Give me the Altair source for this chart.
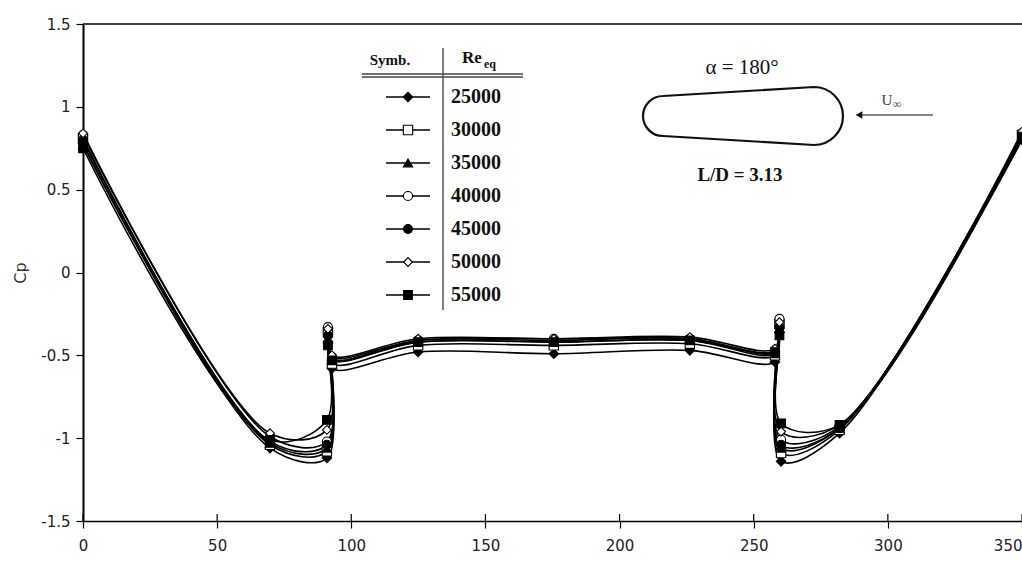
import altair as alt
import pandas as pd

# ---------------- data ----------------
ANGLE = [0, 69.7, 90.9, 91.3, 92.8, 124.9, 175.5, 226.2, 257.9, 259.6, 260.2, 282.0, 350]

RE_LABELS = ["25000", "30000", "35000", "40000", "45000", "50000", "55000"]

CP_25000 = [0.78, -1.06, -1.12, -0.42, -0.58, -0.48, -0.49, -0.47, -0.54, -0.36, -1.14, -0.97, 0.80]
CP_30000 = [0.81, -1.04, -1.08, -0.36, -0.55, -0.44, -0.44, -0.43, -0.50, -0.31, -1.09, -0.95, 0.83]
CP_35000 = [0.77, -1.03, -1.06, -0.40, -0.53, -0.42, -0.42, -0.41, -0.49, -0.34, -1.06, -0.94, 0.81]
CP_40000 = [0.83, -0.99, -1.02, -0.33, -0.52, -0.41, -0.40, -0.40, -0.47, -0.28, -1.01, -0.93, 0.84]
CP_45000 = [0.80, -1.02, -1.04, -0.38, -0.51, -0.41, -0.41, -0.40, -0.48, -0.33, -1.04, -0.94, 0.83]
CP_50000 = [0.84, -0.97, -0.95, -0.34, -0.50, -0.40, -0.40, -0.39, -0.46, -0.30, -0.96, -0.92, 0.85]
CP_55000 = [0.75, -1.01, -0.89, -0.44, -0.53, -0.42, -0.42, -0.41, -0.48, -0.38, -0.91, -0.92, 0.82]

SERIES = [CP_25000, CP_30000, CP_35000, CP_40000, CP_45000, CP_50000, CP_55000]

SHAPES = ["diamond", "square", "triangle-up", "circle", "circle", "diamond", "square"]
FILLS = ["black", "white", "black", "white", "black", "white", "black"]
SIZES = [90, 75, 75, 75, 80, 50, 90]

X_TICKS = [0, 50, 100, 150, 200, 250, 300, 350]
Y_TICKS = [-1.5, -1.0, -0.5, 0.0, 0.5, 1.0, 1.5]

rows = []
for lab, vals in zip(RE_LABELS, SERIES):
    for a, c in zip(ANGLE, vals):
        rows.append({"Re": lab, "angle": a, "cp": c})
df = pd.DataFrame(rows)
leg_df = pd.DataFrame({"Re": RE_LABELS})
xt_df = pd.DataFrame({"angle": X_TICKS})

# ---------------- layout helpers (plot origin in page pixels) ----------------
OX, OY = 83, 24
W, H = 1022 - OX, 497


def px(x):
    return x - OX


def py(y):
    return y - OY


SERIF = "Liberation Serif"
SANS = "DejaVu Sans"

shape_enc = alt.Shape("Re:N", scale=alt.Scale(domain=RE_LABELS, range=SHAPES), legend=None)
fill_enc = alt.Fill("Re:N", scale=alt.Scale(domain=RE_LABELS, range=FILLS), legend=None)
size_enc = alt.Size("Re:N", scale=alt.Scale(domain=RE_LABELS, range=SIZES), legend=None)

x_scale = alt.Scale(domain=[0, 350], nice=False, zero=False)
y_scale = alt.Scale(domain=[-1.5, 1.5], nice=False, zero=False)

x_axis = alt.Axis(values=X_TICKS, title=None, grid=False, labelFlush=False,
                  labelAlign={"condition": {"test": "datum.value >= 350", "value": "right"},
                              "value": "center"},
                  tickSize=7, labelPadding=10, domainWidth=1.5)
y_axis = alt.Axis(values=Y_TICKS, title="Cp", grid=False, labelFlush=False,
                  labelExpr="datum.value + ''", tickSize=7, labelPadding=6,
                  titlePadding=12, titleFontWeight="normal", titleFont=SANS,
                  titleFontSize=16, titleColor="#333", domainWidth=2)

x_enc = alt.X("angle:Q", scale=x_scale, axis=x_axis)
y_enc = alt.Y("cp:Q", scale=y_scale, axis=y_axis)

lines = alt.Chart(df).mark_line(
    interpolate="catmull-rom", color="black", strokeWidth=1.6
).encode(x=x_enc, y=y_enc, detail="Re:N")

points = alt.Chart(df).mark_point(
    filled=True, stroke="black", strokeWidth=1.1, opacity=1
).encode(x=x_enc, y=y_enc, shape=shape_enc, fill=fill_enc, size=size_enc)

# inner half of the crossing x ticks
xticks_in = alt.Chart(xt_df).mark_rule(color="black", strokeWidth=1.2).encode(
    x=alt.X("angle:Q", scale=x_scale, axis=x_axis), y=alt.value(H - 7), y2=alt.value(H))

main = alt.layer(lines, points, xticks_in)

# ---------------- custom legend table ----------------
leg_y = alt.Y("Re:N", scale=alt.Scale(type="point", domain=RE_LABELS,
                                      range=[py(97), py(295)], padding=0), axis=None)

leg_rule = alt.Chart(leg_df).mark_rule(color="black", strokeWidth=1.4).encode(
    x=alt.value(px(386)), x2=alt.value(px(430)), y=leg_y)
leg_pts = alt.Chart(leg_df).mark_point(
    filled=True, stroke="black", strokeWidth=1.1, opacity=1
).encode(x=alt.value(px(408)), y=leg_y, shape=shape_enc, fill=fill_enc, size=size_enc)
leg_txt = alt.Chart(leg_df).mark_text(
    align="left", baseline="middle", font=SERIF, fontWeight="bold", fontSize=20, color="#111"
).encode(x=alt.value(px(451)), y=leg_y, text="Re:N")

legend = alt.layer(leg_rule, leg_pts, leg_txt)

one = pd.DataFrame({"k": [0]})


def label(txt, x, y, size, weight="normal", align="center", color="#111", font=SERIF):
    return alt.Chart(one).mark_text(
        text=txt, align=align, baseline="middle", font=font, fontSize=size,
        fontWeight=weight, color=color
    ).encode(x=alt.value(px(x)), y=alt.value(py(y)))


def hrule(x1, x2, y, color="#444", w=1.3):
    return alt.Chart(one).mark_rule(color=color, strokeWidth=w).encode(
        x=alt.value(px(x1)), x2=alt.value(px(x2)), y=alt.value(py(y)))


top_border = hrule(OX, 1022, OY, color="black", w=1.3)

hdr_symb = label("Symb.", 390, 60, 15, "bold")
hdr_re = label("Re", 472, 58, 17, "bold")
hdr_eq = label("eq", 490, 64, 12, "bold")
hdr_line1 = hrule(362, 523, 74)
hdr_line2 = hrule(362, 523, 77)
vline = alt.Chart(one).mark_rule(color="#555", strokeWidth=1.5).encode(
    x=alt.value(px(443)), y=alt.value(py(48)), y2=alt.value(py(310)))

# ---------------- body sketch and flow arrow ----------------
BODY_PATH = ("M -0.8 -0.2 L 0.71 -0.29 A 0.29 0.29 0 0 1 0.71 0.29 "
             "L -0.8 0.2 A 0.2 0.2 0 0 1 -0.8 -0.2 Z")
body = alt.Chart(one).mark_point(
    shape=BODY_PATH, size=40000, filled=False, stroke="#111", strokeWidth=2.2, opacity=1
).encode(x=alt.value(px(743)), y=alt.value(py(116)))

alpha_txt = label("α = 180°", 742, 68, 21)
ld_txt = label("L/D = 3.13", 740, 175, 19, "bold")
u_txt = label("U", 887, 100, 15, color="#444")
inf_txt = label("∞", 897, 104, 12, color="#444")
arrow_line = hrule(860, 933, 115, color="#111", w=1.2)
arrow_head = alt.Chart(one).mark_point(
    shape="triangle-left", filled=True, color="#111", size=60, opacity=1
).encode(x=alt.value(px(859)), y=alt.value(py(115)))

chart = alt.layer(
    main, legend, top_border,
    hdr_symb, hdr_re, hdr_eq, hdr_line1, hdr_line2, vline,
    body, alpha_txt, ld_txt, u_txt, inf_txt, arrow_line, arrow_head,
).resolve_scale(
    y="independent"
).properties(
    width=W, height=H,
    padding={"left": OX, "top": OY, "right": 0, "bottom": 561 - OY - H},
    autosize=alt.AutoSizeParams(type="none"),
    background="white",
).configure_view(
    stroke=None
).configure_axis(
    labelFont=SANS, labelFontSize=15, labelColor="#222",
    domainColor="black", tickColor="black", tickWidth=1.2,
)

chart.save("out.html", embed_options={"renderer": "svg", "actions": False})
